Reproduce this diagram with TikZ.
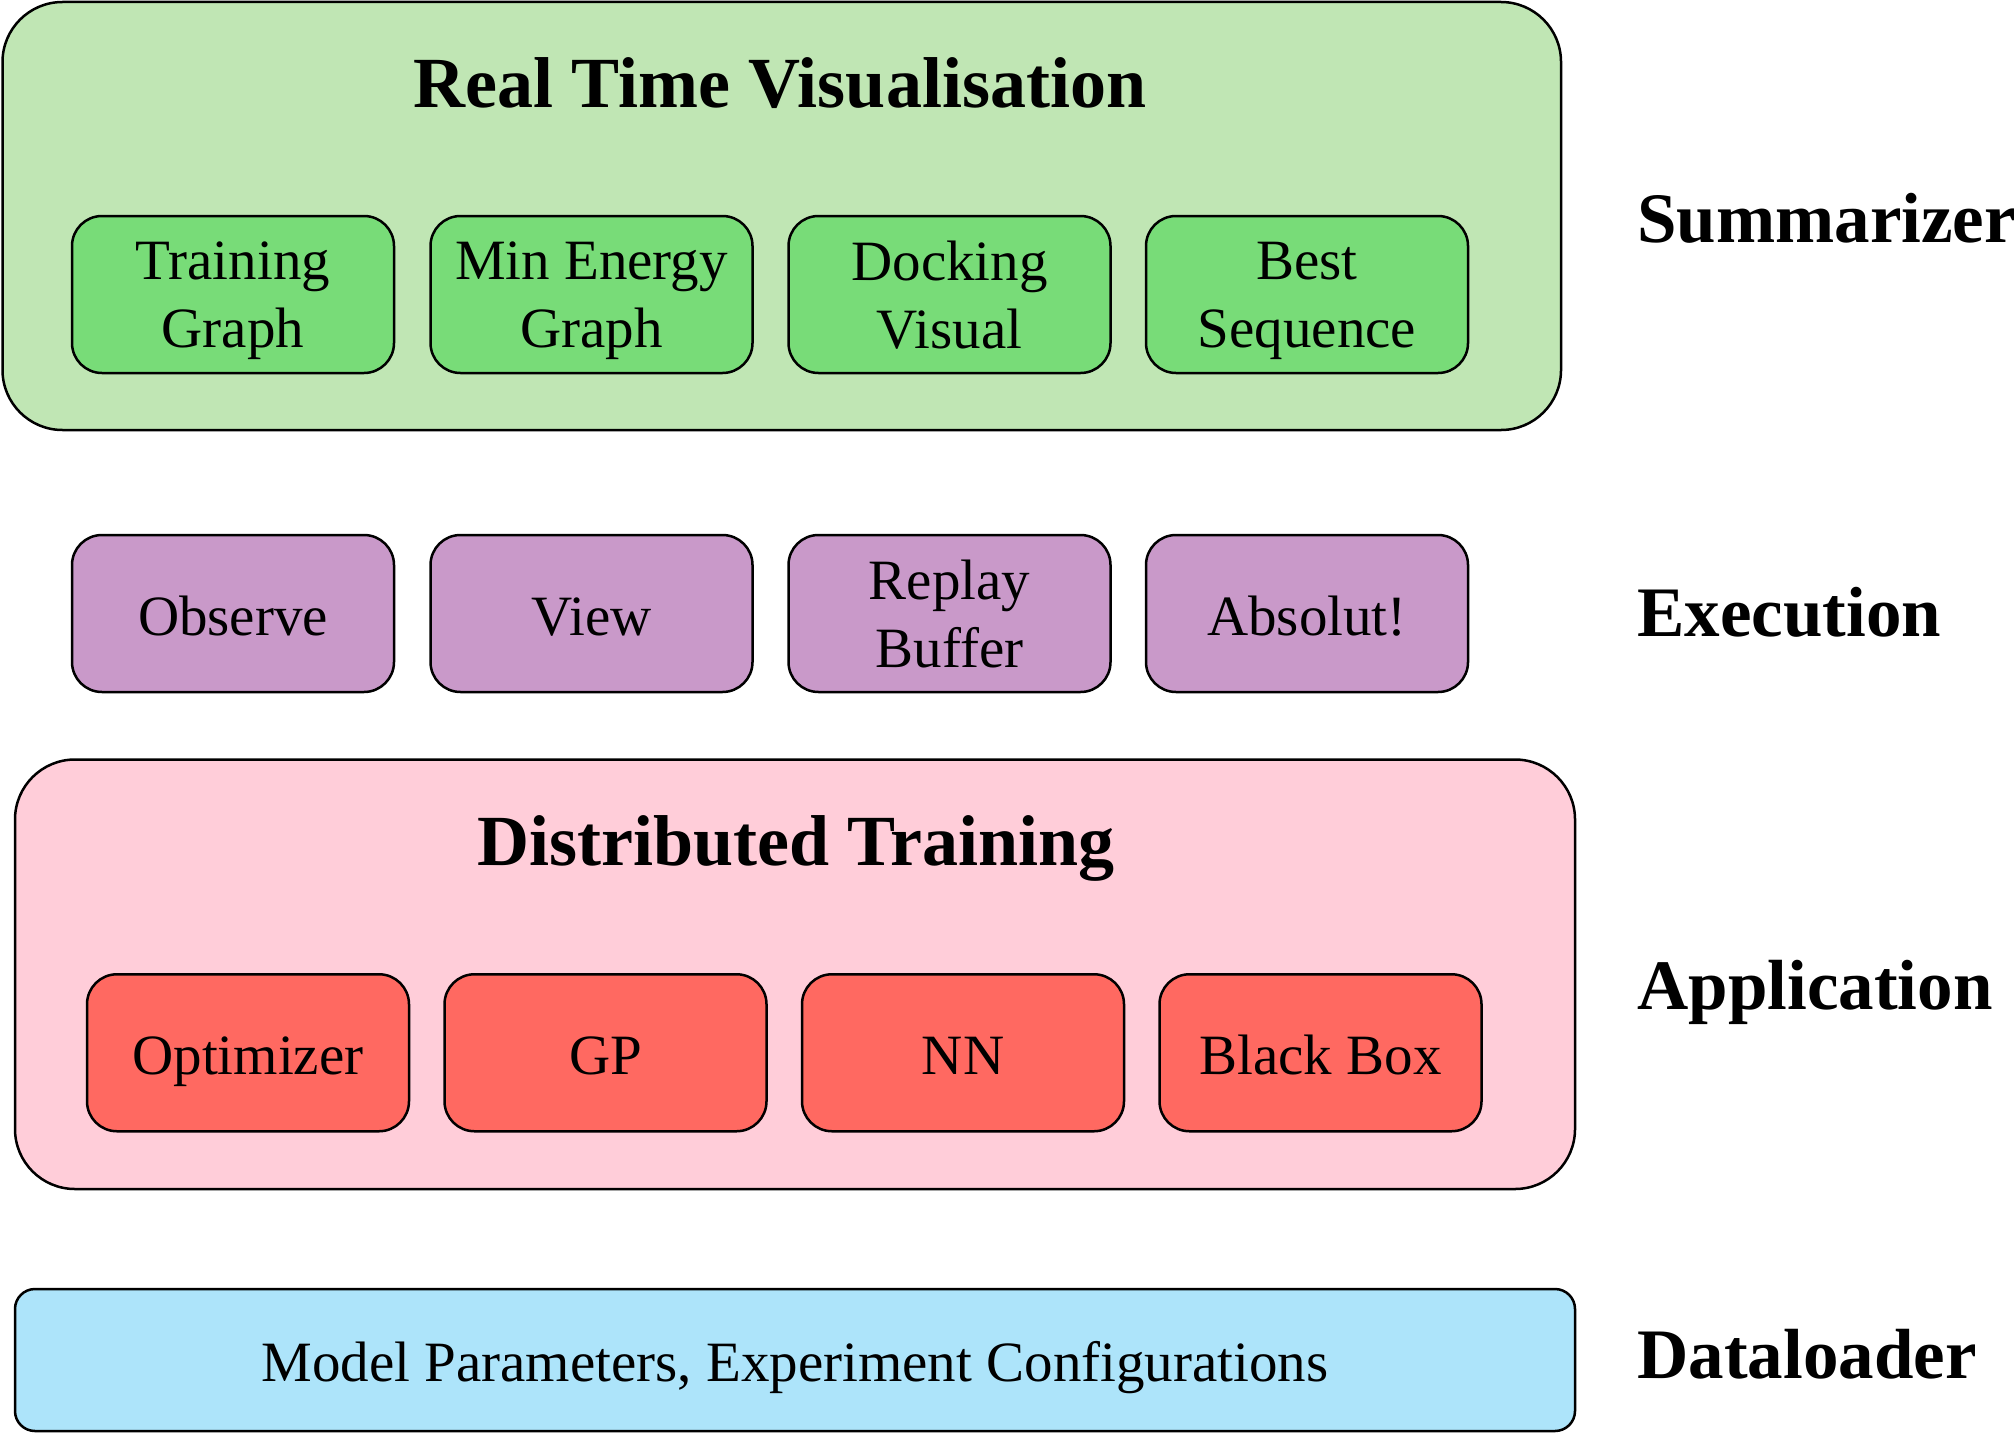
\documentclass[tikz,border=0pt]{standalone}
\usepackage{fontspec}
\setmainfont{Liberation Serif}
\definecolor{gouter}{HTML}{C0E6B4}
\definecolor{ginner}{HTML}{78DC78}
\definecolor{purp}{HTML}{C999C9}
\definecolor{pouter}{HTML}{FFCDD9}
\definecolor{rinner}{HTML}{FF6961}
\definecolor{blu}{HTML}{ADE4FA}
\begin{document}
\begin{tikzpicture}[x=0.5pt,y=-0.5pt,
  outerbox/.style={draw=black,line width=1.25pt,rounded corners=30pt,inner sep=0pt,minimum width=780pt},
  innerbox/.style={draw=black,line width=1.25pt,rounded corners=15pt,minimum width=161pt,minimum height=78.5pt,inner sep=0pt,align=center,font=\fontsize{28.5}{34}\selectfont},
  oneline/.style={text height=21.7pt,text depth=0pt},
  twoline/.style={text depth=-3pt},
  gbox/.style={innerbox,fill=ginner},
  pbox/.style={innerbox,fill=purp},
  rbox/.style={innerbox,fill=rinner},
  ttl/.style={anchor=base,inner sep=0pt,font=\fontsize{36}{43}\selectfont\bfseries},
  lbl/.style={anchor=base west,inner sep=0pt,font=\fontsize{35.5}{43}\selectfont\bfseries}]
\useasboundingbox (0,0) rectangle (2016,1434);
% outer containers
\node[outerbox,fill=gouter,minimum width=779.25pt,minimum height=214pt] (green) at (781.75,216) {};
\node[outerbox,fill=pouter,minimum height=214.75pt] (pink) at (795,974.25) {};
\node[outerbox,fill=blu,rounded corners=10pt,minimum height=71pt,oneline,font=\fontsize{28.5}{34}\selectfont] (blue) at (795,1360) {Model Parameters, Experiment Configurations};
% titles
\node[ttl] (t1) at (780,107) {Real Time Visualisation};
\node[ttl] (t2) at (796,865) {Distributed Training};
% green inner
\node[gbox,twoline] (g1) at (233,294.5) {Training\\Graph};
\node[gbox,twoline] (g2) at (591.5,294.5) {Min Energy\\Graph};
\node[gbox,twoline] (g3) at (949.5,294.5) {Docking\\Visual};
\node[gbox,twoline] (g4) at (1307,294.5) {Best\\Sequence};
% purple
\node[pbox,oneline] (p1) at (233,613.5) {Observe};
\node[pbox,oneline] (p2) at (591.5,613.5) {View};
\node[pbox,twoline] (p3) at (949.5,613.5) {Replay\\Buffer};
\node[pbox,oneline] (p4) at (1307,613.5) {Absolut!};
% red
\node[rbox,oneline] (r1) at (248,1052.75) {Optimizer};
\node[rbox,oneline] (r2) at (605.5,1052.75) {GP};
\node[rbox,oneline] (r3) at (963,1052.75) {NN};
\node[rbox,oneline] (r4) at (1320.5,1052.75) {Black Box};
% layer labels
\node[lbl] (l1) at (1637,242) {Summarizer};
\node[lbl] (l2) at (1637,636) {Execution};
\node[lbl] (l3) at (1637,1009) {Application};
\node[lbl] (l4) at (1637,1378) {Dataloader};
\end{tikzpicture}
\end{document}
